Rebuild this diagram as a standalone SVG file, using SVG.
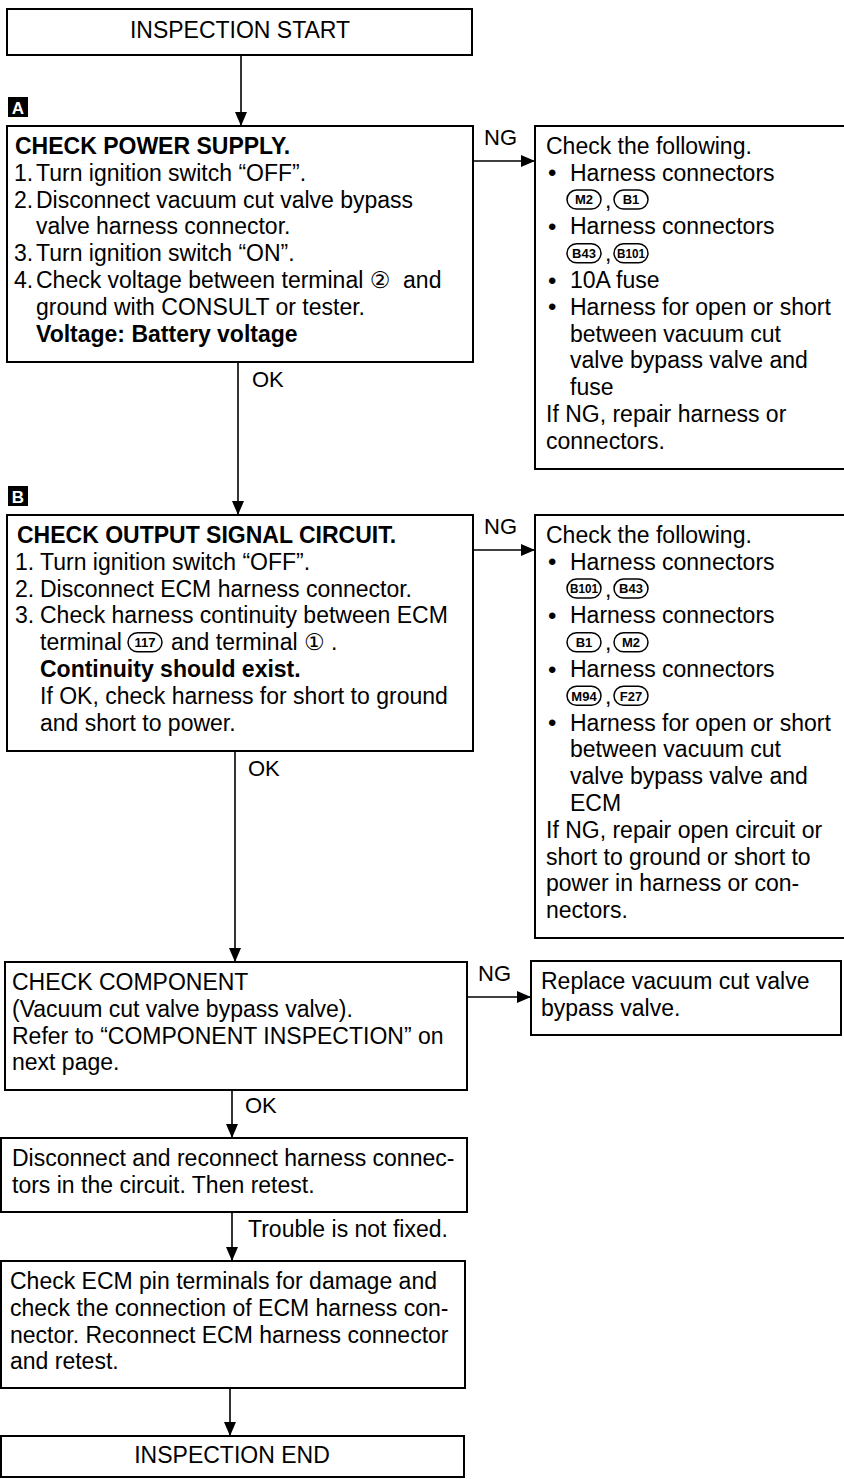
<svg xmlns="http://www.w3.org/2000/svg" width="844" height="1479" viewBox="0 0 844 1479">
<defs>
<marker id="ah" markerUnits="userSpaceOnUse" markerWidth="15" markerHeight="13" refX="14" refY="6" orient="auto">
<path d="M0,0 L14,6 L0,12 z" fill="#000"/>
</marker>
<style>
text{font-family:"Liberation Sans","DejaVu Sans",Arial,sans-serif;font-size:23px;fill:#000}
.b{font-weight:bold}
.lbl{font-size:22px}
.bul{font-size:24px}
.box{fill:#fff;stroke:#000;stroke-width:2}
.con{fill:none;stroke:#000;stroke-width:1.6}
.ov{fill:#fff;stroke:#000;stroke-width:1.5}
.ot{font-size:13px;font-weight:bold;text-anchor:middle}
.tag{fill:#000}
.tagt{fill:#fff;font-size:17px;font-weight:bold;text-anchor:middle}
.mid{text-anchor:middle}
</style>
</defs>
<rect width="844" height="1479" fill="#fff"/>

<g id="connectors">
<path class="con" d="M241,55 V126" marker-end="url(#ah)"/>
<path class="con" d="M473,161 H535" marker-end="url(#ah)"/>
<path class="con" d="M238,362 V515" marker-end="url(#ah)"/>
<path class="con" d="M473,550 H535" marker-end="url(#ah)"/>
<path class="con" d="M235,751 V962" marker-end="url(#ah)"/>
<path class="con" d="M467,997 H531" marker-end="url(#ah)"/>
<path class="con" d="M232,1090 V1138" marker-end="url(#ah)"/>
<path class="con" d="M232,1212 V1261" marker-end="url(#ah)"/>
<path class="con" d="M230,1388 V1436" marker-end="url(#ah)"/>
<text class="lbl" x="484" y="145">NG</text>
<text class="lbl" x="484" y="534">NG</text>
<text class="lbl" x="478" y="981">NG</text>
<text class="lbl" x="252" y="387">OK</text>
<text class="lbl" x="248" y="776">OK</text>
<text class="lbl" x="245" y="1113">OK</text>
<text x="248" y="1237">Trouble is not fixed.</text>
</g>

<g id="start">
<rect class="box" x="7" y="9" width="465" height="46"/>
<text class="mid" x="240" y="38">INSPECTION START</text>
</g>

<g id="tagA">
<rect class="tag" x="8" y="97" width="20" height="20"/>
<text class="tagt" x="18" y="113.5">A</text>
</g>

<g id="boxA">
<rect class="box" x="7" y="126" width="466" height="236"/>
<text class="b" x="15" y="154">CHECK POWER SUPPLY.</text>
<text x="14" y="180.8">1.</text><text x="36" y="180.8">Turn ignition switch “OFF”.</text>
<text x="14" y="207.6">2.</text><text x="36" y="207.6">Disconnect vacuum cut valve bypass</text>
<text x="36" y="234.4">valve harness connector.</text>
<text x="14" y="261.2">3.</text><text x="36" y="261.2">Turn ignition switch “ON”.</text>
<text x="14" y="288">4.</text><text x="36" y="288" xml:space="preserve">Check voltage between terminal ②  and</text>
<text x="36" y="314.8">ground with CONSULT or tester.</text>
<text class="b" x="36" y="341.6">Voltage: Battery voltage</text>
</g>

<g id="ngA">
<rect class="box" x="535" y="126" width="320" height="343"/>
<text x="546" y="154">Check the following.</text>
<text class="bul" x="548" y="181.3">•</text><text x="570" y="180.8">Harness connectors</text>
<rect class="ov" x="567" y="190.1" width="34" height="19" rx="9.5"/><text class="ot" x="584" y="204.3">M2</text>
<text x="605" y="207.6">,</text>
<rect class="ov" x="614" y="190.1" width="34" height="19" rx="9.5"/><text class="ot" x="631" y="204.3">B1</text>
<text class="bul" x="548" y="234.9">•</text><text x="570" y="234.4">Harness connectors</text>
<rect class="ov" x="567" y="243.7" width="34" height="19" rx="9.5"/><text class="ot" x="584" y="257.9">B43</text>
<text x="605" y="261.2">,</text>
<rect class="ov" x="614" y="243.7" width="34" height="19" rx="9.5"/><text class="ot" x="631" y="257.9" textLength="28" lengthAdjust="spacingAndGlyphs">B101</text>
<text class="bul" x="548" y="288.5">•</text><text x="570" y="288">10A fuse</text>
<text class="bul" x="548" y="315.3">•</text><text x="570" y="314.8">Harness for open or short</text>
<text x="570" y="341.6">between vacuum cut</text>
<text x="570" y="368.4">valve bypass valve and</text>
<text x="570" y="395.2">fuse</text>
<text x="546" y="422">If NG, repair harness or</text>
<text x="546" y="448.8">connectors.</text>
</g>

<g id="tagB">
<rect class="tag" x="8" y="486" width="20" height="20"/>
<text class="tagt" x="18" y="502.5">B</text>
</g>

<g id="boxB">
<rect class="box" x="7" y="515" width="466" height="236"/>
<text class="b" x="17" y="543">CHECK OUTPUT SIGNAL CIRCUIT.</text>
<text x="15" y="569.8">1.</text><text x="40" y="569.8">Turn ignition switch “OFF”.</text>
<text x="15" y="596.6">2.</text><text x="40" y="596.6">Disconnect ECM harness connector.</text>
<text x="15" y="623.4">3.</text><text x="40" y="623.4">Check harness continuity between ECM</text>
<text x="40" y="650.2">terminal</text>
<rect class="ov" x="128" y="632.7" width="34" height="19" rx="9.5"/><text class="ot" x="145" y="646.9">117</text>
<text x="171" y="650.2">and terminal ① .</text>
<text class="b" x="40" y="677">Continuity should exist.</text>
<text x="40" y="703.8">If OK, check harness for short to ground</text>
<text x="40" y="730.6">and short to power.</text>
</g>

<g id="ngB">
<rect class="box" x="535" y="515" width="320" height="423"/>
<text x="546" y="543">Check the following.</text>
<text class="bul" x="548" y="570.3">•</text><text x="570" y="569.8">Harness connectors</text>
<rect class="ov" x="567" y="579.1" width="34" height="19" rx="9.5"/><text class="ot" x="584" y="593.3" textLength="28" lengthAdjust="spacingAndGlyphs">B101</text>
<text x="605" y="596.6">,</text>
<rect class="ov" x="614" y="579.1" width="34" height="19" rx="9.5"/><text class="ot" x="631" y="593.3">B43</text>
<text class="bul" x="548" y="623.9">•</text><text x="570" y="623.4">Harness connectors</text>
<rect class="ov" x="567" y="632.7" width="34" height="19" rx="9.5"/><text class="ot" x="584" y="646.9">B1</text>
<text x="605" y="650.2">,</text>
<rect class="ov" x="614" y="632.7" width="34" height="19" rx="9.5"/><text class="ot" x="631" y="646.9">M2</text>
<text class="bul" x="548" y="677.5">•</text><text x="570" y="677">Harness connectors</text>
<rect class="ov" x="567" y="686.3" width="34" height="19" rx="9.5"/><text class="ot" x="584" y="700.5">M94</text>
<text x="605" y="703.8">,</text>
<rect class="ov" x="614" y="686.3" width="34" height="19" rx="9.5"/><text class="ot" x="631" y="700.5">F27</text>
<text class="bul" x="548" y="731.1">•</text><text x="570" y="730.6">Harness for open or short</text>
<text x="570" y="757.4">between vacuum cut</text>
<text x="570" y="784.2">valve bypass valve and</text>
<text x="570" y="811">ECM</text>
<text x="546" y="837.8">If NG, repair open circuit or</text>
<text x="546" y="864.6">short to ground or short to</text>
<text x="546" y="891.4">power in harness or con-</text>
<text x="546" y="918.2">nectors.</text>
</g>

<g id="component">
<rect class="box" x="5" y="962" width="462" height="128"/>
<text x="12" y="990">CHECK COMPONENT</text>
<text x="12" y="1016.8">(Vacuum cut valve bypass valve).</text>
<text x="12" y="1043.6">Refer to “COMPONENT INSPECTION” on</text>
<text x="12" y="1070.4">next page.</text>
</g>

<g id="replace">
<rect class="box" x="531" y="961" width="310" height="74"/>
<text x="541" y="989">Replace vacuum cut valve</text>
<text x="541" y="1015.8">bypass valve.</text>
</g>

<g id="reconnect">
<rect class="box" x="1" y="1138" width="466" height="74"/>
<text x="12" y="1166">Disconnect and reconnect harness connec-</text>
<text x="12" y="1192.8">tors in the circuit. Then retest.</text>
</g>

<g id="ecm">
<rect class="box" x="1" y="1261" width="464" height="127"/>
<text x="10" y="1289">Check ECM pin terminals for damage and</text>
<text x="10" y="1315.8">check the connection of ECM harness con-</text>
<text x="10" y="1342.6">nector. Reconnect ECM harness connector</text>
<text x="10" y="1369.4">and retest.</text>
</g>

<g id="end">
<rect class="box" x="1" y="1436" width="463" height="41"/>
<text class="mid" x="232" y="1463">INSPECTION END</text>
</g>
</svg>
